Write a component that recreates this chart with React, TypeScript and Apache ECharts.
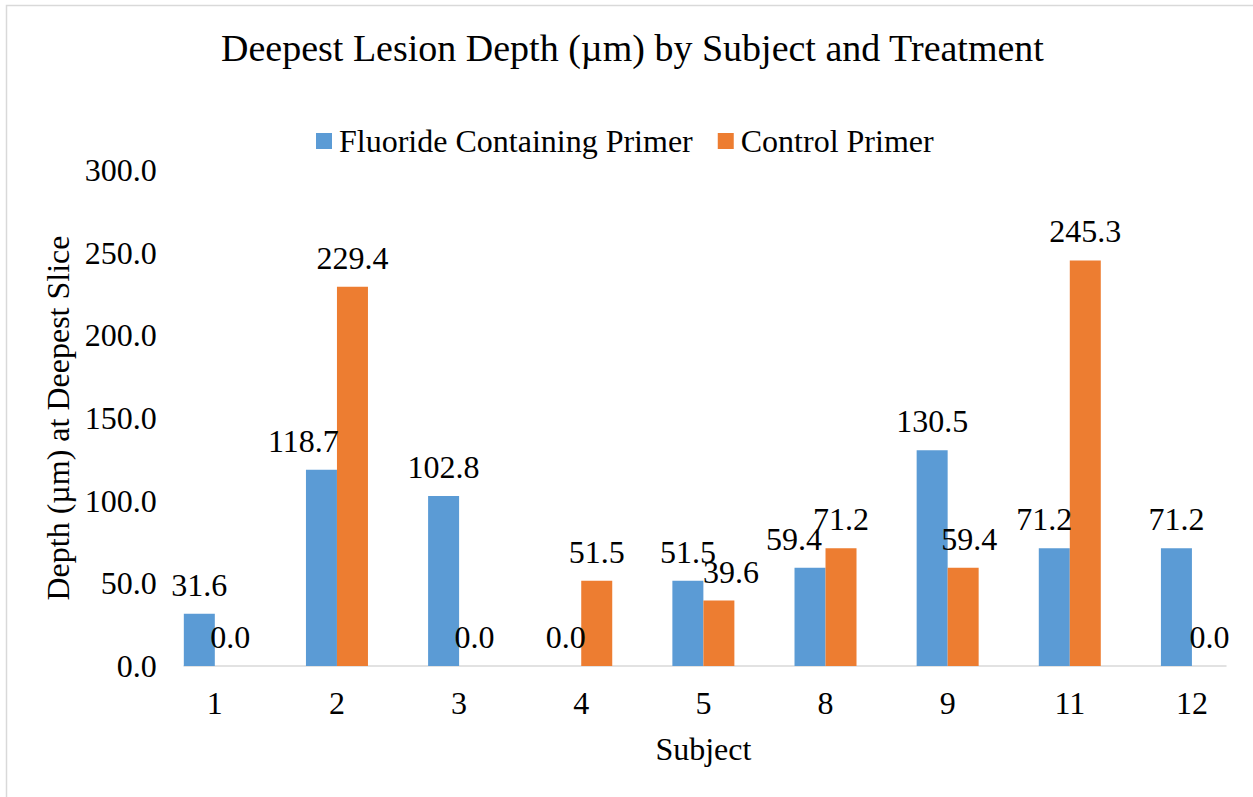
import React, { useEffect, useRef } from "react";
import * as echarts from "echarts";

const subjects = ["1", "2", "3", "4", "5", "8", "9", "11", "12"];
const fluorideValues = [31.6, 118.7, 102.8, 0.0, 51.5, 59.4, 130.5, 71.2, 71.2];
const controlValues = [0.0, 229.4, 0.0, 51.5, 39.6, 71.2, 59.4, 245.3, 0.0];
const yTicks = [0, 50, 100, 150, 200, 250, 300];

// label nudges (x, px) to mimic the original label placement
const fluorideLabelShift = [0, -18, 0, 0, 0, -16, 0, -10, 0];
const controlLabelShift = [0, 0, 0, 0, 12, 0, 6, 0, 2];

const FONT = '"Liberation Serif", "Times New Roman", serif';
const BLUE = "#5B9BD5";
const ORANGE = "#ED7D31";

export default function App() {
  const ref = useRef<HTMLDivElement>(null);

  useEffect(() => {
    if (!ref.current) return;
    const chart = echarts.init(ref.current, null, { renderer: "svg" });

    const gridLeft = 153.75;
    const gridTop = 170;
    const gridHeight = 496;
    const catW = 122.5;
    const gridWidth = catW * subjects.length;
    const barW = 31;

    const labelBase = {
      show: true,
      position: "top" as const,
      distance: 13,
      fontSize: 32,
      fontFamily: FONT,
      color: "#000",
      formatter: (p: any) => Number(p.value).toFixed(1),
    };

    chart.setOption({
      animation: false,
      backgroundColor: "#fff",
      textStyle: { fontFamily: FONT, color: "#000" },
      title: {
        text: "Deepest Lesion Depth (µm) by Subject and Treatment",
        left: 221,
        top: 29,
        padding: 0,
        textStyle: { fontFamily: FONT, fontSize: 38, fontWeight: "normal", color: "#000" },
      },
      legend: {
        left: 316,
        top: 125,
        padding: 0,
        icon: "rect",
        itemWidth: 16,
        itemHeight: 16,
        itemGap: 25,
        textStyle: { fontFamily: FONT, fontSize: 32, color: "#000", padding: [0, 0, 0, 2] },
        data: ["Fluoride Containing Primer", "Control Primer"],
      },
      graphic: [
        {
          type: "rect",
          shape: { x: 6.5, y: 5.5, width: 1400, height: 1000 },
          style: { fill: "none", stroke: "#D9D9D9", lineWidth: 1.5 },
          silent: true,
        },
      ],
      grid: [
        { left: gridLeft, top: gridTop, width: gridWidth, height: gridHeight },
        {
          left: gridLeft + catW / 2 - barW,
          top: gridTop,
          width: gridWidth - catW + 2 * barW,
          height: gridHeight,
        },
      ],
      xAxis: [
        {
          type: "category",
          gridIndex: 0,
          data: subjects,
          boundaryGap: true,
          axisLine: { show: false },
          axisTick: { show: false },
          axisLabel: { fontSize: 32, fontFamily: FONT, color: "#000", margin: 21 },
          name: "Subject",
          nameLocation: "middle",
          nameGap: 67,
          nameTextStyle: { fontSize: 32, fontFamily: FONT, color: "#000" },
        },
        {
          type: "value",
          gridIndex: 1,
          min: 0,
          max: 1,
          axisLine: { show: true, lineStyle: { color: "#D9D9D9", width: 1.5 } },
          axisTick: { show: false },
          axisLabel: { show: false },
          splitLine: { show: false },
        },
      ],
      yAxis: [
        {
          type: "value",
          gridIndex: 0,
          min: yTicks[0],
          max: yTicks[yTicks.length - 1],
          interval: yTicks[1] - yTicks[0],
          axisLine: { show: false },
          axisTick: { show: false },
          splitLine: { show: false },
          axisLabel: {
            fontSize: 32,
            fontFamily: FONT,
            color: "#000",
            margin: -3,
            formatter: (v: number) => v.toFixed(1),
          },
          name: "Depth (µm) at Deepest Slice",
          nameLocation: "middle",
          nameGap: 79,
          nameTextStyle: { fontSize: 32, fontFamily: FONT, color: "#000" },
        },
        { type: "value", gridIndex: 1, min: 0, max: 1, show: false },
      ],
      series: [
        {
          name: "Fluoride Containing Primer",
          type: "bar",
          xAxisIndex: 0,
          yAxisIndex: 0,
          barWidth: barW,
          barGap: "0%",
          itemStyle: { color: BLUE },
          label: labelBase,
          data: fluorideValues.map((v, i) => ({
            value: v,
            label: { offset: [fluorideLabelShift[i], 0] },
          })),
        },
        {
          name: "Control Primer",
          type: "bar",
          xAxisIndex: 0,
          yAxisIndex: 0,
          barWidth: barW,
          barGap: "0%",
          itemStyle: { color: ORANGE },
          label: labelBase,
          data: controlValues.map((v, i) => ({
            value: v,
            label: { offset: [controlLabelShift[i], 0] },
          })),
        },
      ],
    });

    return () => chart.dispose();
  }, []);

  return (
    <div
      ref={ref}
      style={{ position: "absolute", left: 0, top: 0, width: 1253, height: 797 }}
    />
  );
}
